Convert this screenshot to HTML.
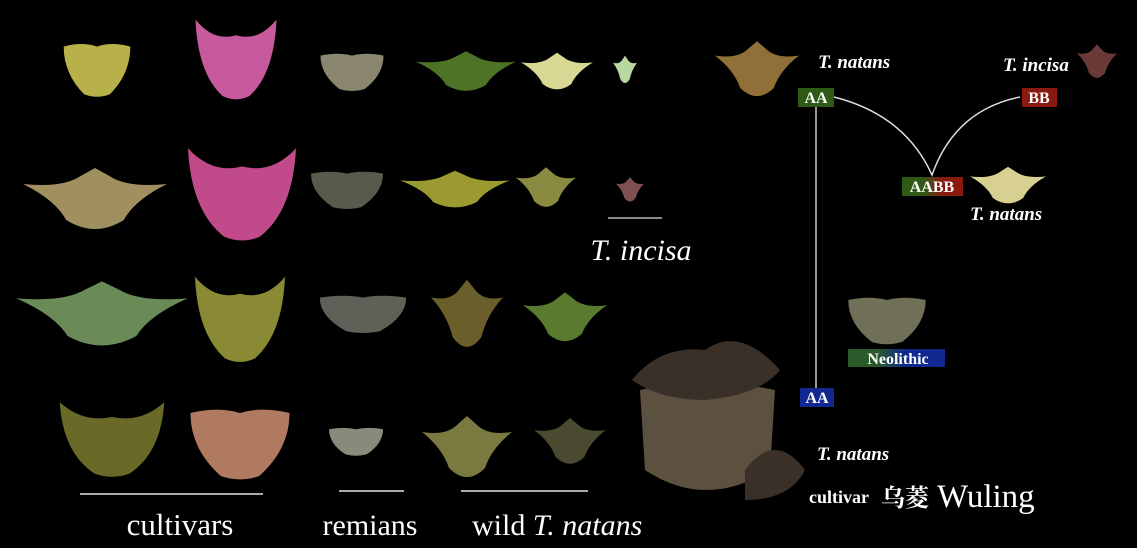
<!DOCTYPE html>
<html><head><meta charset="utf-8"><style>
html,body{margin:0;padding:0;background:#000;}
svg{display:block;}
text{font-family:"Liberation Serif","Noto Serif CJK SC",serif;fill:#fff;}
</style></head><body>
<svg width="1137" height="548" viewBox="0 0 1137 548" xmlns="http://www.w3.org/2000/svg">
<defs>
<path id="f" d="M-1,-0.4 Q-0.45,-0.3 -0.2,-0.6 L0,-0.8 L0.2,-0.6 Q0.45,-0.3 1,-0.4 Q0.55,0 0.4,0.5 Q0,0.95 -0.4,0.5 Q-0.55,0 -1,-0.4Z"/>
<path id="h" d="M-0.9,-0.9 Q-0.5,-0.4 0,-0.55 Q0.5,-0.4 0.9,-0.9 Q0.85,0.3 0.3,0.8 Q0,0.95 -0.3,0.8 Q-0.85,0.3 -0.9,-0.9Z"/>
<path id="b" d="M-0.9,-0.6 Q-0.4,-0.75 0,-0.6 Q0.4,-0.75 0.9,-0.6 Q0.9,0.2 0.35,0.8 Q0,0.95 -0.35,0.8 Q-0.9,0.2 -0.9,-0.6Z"/>
<linearGradient id="gab"><stop offset="0.35" stop-color="#2e5a16"/><stop offset="0.65" stop-color="#8a1a10"/></linearGradient>
<linearGradient id="gneo"><stop offset="0.3" stop-color="#2a5a2a"/><stop offset="0.6" stop-color="#102890"/></linearGradient>
</defs>
<use href="#b" transform="translate(97,67) scale(37,34)" fill="#b8b048"/>
<use href="#h" transform="translate(236,60) scale(45,45)" fill="#c65a9c"/>
<use href="#b" transform="translate(352,70) scale(35,24)" fill="#8a8670"/>
<use href="#f" transform="translate(466,72) scale(50,26)" fill="#4e7226"/>
<use href="#f" transform="translate(557,72) scale(36,24)" fill="#d8d894"/>
<use href="#f" transform="translate(625,70) scale(12,18)" fill="#b8d8a0"/>
<use href="#f" transform="translate(757,70) scale(42,36)" fill="#907038"/>
<use href="#f" transform="translate(95,200) scale(72,40)" fill="#a09060"/>
<use href="#h" transform="translate(242,195) scale(60,52)" fill="#c04a8a"/>
<use href="#b" transform="translate(347,188) scale(40,24)" fill="#5a5a4c"/>
<use href="#f" transform="translate(455,190) scale(55,24)" fill="#9a9a30"/>
<use href="#f" transform="translate(546,188) scale(30,26)" fill="#8a8a40"/>
<use href="#f" transform="translate(630,190) scale(14,16)" fill="#805050"/>
<line x1="608" y1="218" x2="662" y2="218" stroke="#ddd" stroke-width="1.2"/>
<text x="641" y="260" font-size="30" font-style="italic" text-anchor="middle">T. incisa</text>
<use href="#f" transform="translate(102,315) scale(86,42)" fill="#6a8a58"/>
<use href="#h" transform="translate(240,320) scale(50,48)" fill="#8a8a34"/>
<use href="#b" transform="translate(363,312) scale(48,24)" fill="#606058"/>
<use href="#f" transform="translate(467,315) scale(36,44)" fill="#6a5e2a"/>
<use href="#f" transform="translate(565,318) scale(42,32)" fill="#5a7a30"/>
<use href="#b" transform="translate(887,318) scale(43,30)" fill="#707058"/>
<use href="#h" transform="translate(112,440) scale(58,42)" fill="#6a6a28"/>
<use href="#b" transform="translate(240,440) scale(55,45)" fill="#b07a60"/>
<use href="#b" transform="translate(356,440) scale(30,18)" fill="#8a8a7a"/>
<use href="#f" transform="translate(467,448) scale(45,40)" fill="#7a7a40"/>
<use href="#f" transform="translate(570,442) scale(36,30)" fill="#4a4a30"/>
<line x1="80" y1="494" x2="263" y2="494" stroke="#aaa" stroke-width="2"/>
<line x1="339" y1="491" x2="404" y2="491" stroke="#aaa" stroke-width="2"/>
<line x1="461" y1="491" x2="588" y2="491" stroke="#aaa" stroke-width="2"/>
<text x="180" y="535" font-size="31" text-anchor="middle">cultivars</text>
<text x="370" y="535" font-size="30" text-anchor="middle">remians</text>
<text x="472" y="535" font-size="30">wild <tspan font-style="italic">T. natans</tspan></text>
<path d="M640,390 Q705,375 775,390 L770,470 Q705,510 645,470 Z" fill="#5c5040"/>
<path d="M632,380 Q660,345 705,350 Q740,325 780,370 Q760,395 705,400 Q660,400 632,380Z" fill="#3a3028"/>
<path d="M745,470 Q775,430 805,470 Q790,500 745,500Z" fill="#3a3028"/>
<use href="#f" transform="translate(1097,62) scale(20,22)" fill="#6a3a38"/>
<use href="#f" transform="translate(1008,186) scale(38,24)" fill="#d8d090"/>
<path d="M834,97 Q905,115 932,175 Q955,110 1020,97" fill="none" stroke="#ddd" stroke-width="1.5"/>
<line x1="816" y1="106" x2="816" y2="388" stroke="#ccc" stroke-width="1.5"/>
<text x="818" y="68" font-size="19" font-style="italic" font-weight="bold">T. natans</text>
<text x="1003" y="71" font-size="19" font-style="italic" font-weight="bold">T. incisa</text>
<rect x="798" y="88" width="36" height="19" fill="#2e5a16"/>
<text x="816" y="103" font-size="16" font-weight="bold" text-anchor="middle">AA</text>
<rect x="1022" y="88" width="35" height="19" fill="#8a1a10"/>
<text x="1039" y="103" font-size="16" font-weight="bold" text-anchor="middle">BB</text>
<rect x="902" y="177" width="61" height="19" fill="url(#gab)"/>
<text x="932" y="192" font-size="16" font-weight="bold" text-anchor="middle">AABB</text>
<text x="970" y="220" font-size="19" font-style="italic" font-weight="bold">T. natans</text>
<rect x="848" y="349" width="97" height="18" fill="url(#gneo)"/>
<text x="898" y="364" font-size="16" font-weight="bold" text-anchor="middle">Neolithic</text>
<rect x="800" y="388" width="34" height="19" fill="#102890"/>
<text x="817" y="403" font-size="16" font-weight="bold" text-anchor="middle">AA</text>
<text x="817" y="460" font-size="19" font-style="italic" font-weight="bold">T. natans</text>
<text x="809" y="503" font-size="18" font-weight="bold">cultivar</text>
<text x="881" y="506" font-size="24" font-weight="bold">乌菱</text>
<text x="937" y="507" font-size="33">Wuling</text>
</svg>
</body></html>
